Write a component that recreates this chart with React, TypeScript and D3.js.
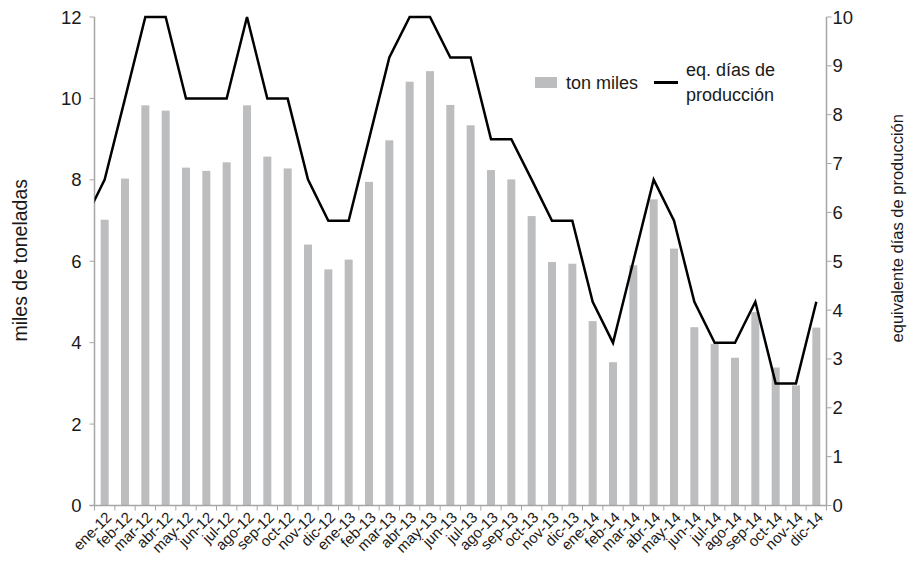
import React from "react";
import * as d3 from "d3";

const months = [
  "ene-12","feb-12","mar-12","abr-12","may-12","jun-12","jul-12","ago-12","sep-12","oct-12","nov-12","dic-12",
  "ene-13","feb-13","mar-13","abr-13","may-13","jun-13","jul-13","ago-13","sep-13","oct-13","nov-13","dic-13",
  "ene-14","feb-14","mar-14","abr-14","may-14","jun-14","jul-14","ago-14","sep-14","oct-14","nov-14","dic-14",
];
const tonMiles = [
  7.02, 8.03, 9.83, 9.7, 8.3, 8.22, 8.43, 9.83, 8.57, 8.28, 6.41, 5.8,
  6.04, 7.95, 8.97, 10.41, 10.67, 9.84, 9.34, 8.24, 8.01, 7.11, 5.98, 5.94,
  4.53, 3.52, 5.9, 7.52, 6.31, 4.38, 3.97, 3.63, 4.75, 3.39, 2.95, 4.37,
];
// value of the month before the first one (dic-11); its segment is clipped at the plot edge
const daysPrev = 5.83;
const eqDays = [
  6.67, 8.33, 10, 10, 8.33, 8.33, 8.33, 10, 8.33, 8.33, 6.67, 5.83,
  5.83, 7.5, 9.17, 10, 10, 9.17, 9.17, 7.5, 7.5, 6.67, 5.83, 5.83,
  4.17, 3.33, 5, 6.67, 5.83, 4.17, 3.33, 3.33, 4.17, 2.5, 2.5, 4.17,
];
const leftTicks = [0, 2, 4, 6, 8, 10, 12];
const rightTicks = [0, 1, 2, 3, 4, 5, 6, 7, 8, 9, 10];

const W = 917, H = 565;
const L = 94.5, R = 826.5, T = 17, B = 505.5;
const AXIS = "#a6a6a6";
const BAR = "#bcbdbf";
const FONT = "'Liberation Sans', Arial, sans-serif";
const INK = "#1a1a1a";

export default function App() {
  const xIdx = d3.scaleLinear().domain([0, months.length]).range([L, R]);
  const cx = (i: number) => xIdx(i + 0.5);
  const yL = d3.scaleLinear().domain([0, 12]).range([B, T]);
  const yR = d3.scaleLinear().domain([0, 10]).range([B, T]);
  const barW = 8;

  const linePts: [number, number][] = [[cx(-1), yR(daysPrev)], ...eqDays.map((v, i) => [cx(i), yR(v)] as [number, number])];
  const linePath = d3.line()(linePts) || "";

  return (
    <svg width={W} height={H} style={{ position: "absolute", left: 0, top: 0, fontFamily: FONT }}>
      <rect width={W} height={H} fill="#fff" />
      <defs>
        <clipPath id="plotClip">
          <rect x={L} y={0} width={R - L} height={B} />
        </clipPath>
      </defs>
      {/* bars */}
      {tonMiles.map((v, i) => (
        <rect key={i} x={cx(i) - barW / 2} y={yL(v)} width={barW} height={B - yL(v)} fill={BAR} />
      ))}
      {/* x axis */}
      <line x1={L - 5} x2={R} y1={B} y2={B} stroke={AXIS} strokeWidth={1.5} />
      {d3.range(months.length + 1).map((i) => (
        <line key={i} x1={xIdx(i)} x2={xIdx(i)} y1={B} y2={B + 5} stroke={AXIS} strokeWidth={1} />
      ))}
      {months.map((m, i) => (
        <text key={m} transform={`translate(${cx(i) + 5},${B + 10}) rotate(-45)`} textAnchor="end"
          dominantBaseline="middle" fontSize={15} fill={INK}>{m}</text>
      ))}
      {/* left axis */}
      <line x1={L} x2={L} y1={T} y2={B} stroke={AXIS} strokeWidth={1.5} />
      {leftTicks.map((t) => (
        <g key={t}>
          <line x1={L - 5} x2={L} y1={yL(t)} y2={yL(t)} stroke={AXIS} />
          <text x={L - 13} y={yL(t)} textAnchor="end" dominantBaseline="central" fontSize={18.5} fill={INK}>{t}</text>
        </g>
      ))}
      {/* right axis */}
      <line x1={R} x2={R} y1={T} y2={B} stroke={AXIS} strokeWidth={1.5} />
      {rightTicks.map((t) => (
        <g key={t}>
          <line x1={R} x2={R + 5} y1={yR(t)} y2={yR(t)} stroke={AXIS} />
          <text x={R + 6} y={yR(t)} dominantBaseline="central" fontSize={18.5} fill={INK}>{t}</text>
        </g>
      ))}
      {/* line */}
      <path d={linePath} fill="none" stroke="#000" strokeWidth={2.5} clipPath="url(#plotClip)" />
      {/* axis titles */}
      <text transform={`translate(27,${(T + B) / 2 - 1}) rotate(-90)`} textAnchor="middle" fontSize={19.5} fill={INK}>miles de toneladas</text>
      <text transform={`translate(903,${(T + B) / 2 - 33}) rotate(-90)`} textAnchor="middle" fontSize={16.5} fill={INK}>equivalente días de producción</text>
      {/* legend */}
      <rect x={535} y={77} width={22} height={11} fill={BAR} />
      <text x={566} y={82.5} dominantBaseline="central" fontSize={18} fill={INK}>ton miles</text>
      <line x1={654} x2={678} y1={82.5} y2={82.5} stroke="#000" strokeWidth={3} />
      <text x={686} y={70} dominantBaseline="central" fontSize={18} fill={INK}>eq. días de</text>
      <text x={686} y={95} dominantBaseline="central" fontSize={18} fill={INK}>producción</text>
    </svg>
  );
}
